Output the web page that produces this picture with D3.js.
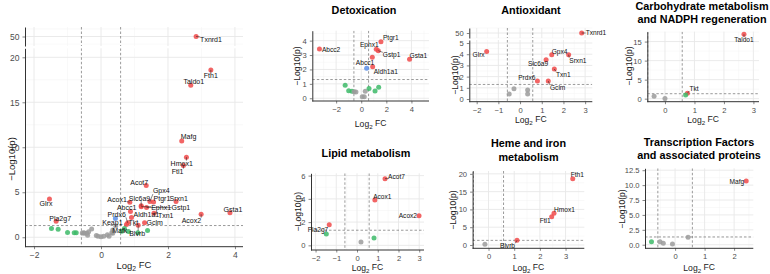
<!DOCTYPE html>
<html>
<head>
<meta charset="utf-8">
<script src="https://cdn.jsdelivr.net/npm/d3@7"></script>
<style>
  body { margin: 0; background: #fff; }
  svg { display: block; font-family: "Liberation Sans", Arial, sans-serif; }
</style>
</head>
<body>
<svg id="fig" width="770" height="274"></svg>
<script>
// Genes per group: [name, log2 FC, -log10(p)]. Empty name = unlabeled point.
const detox = [
  ["Abcc2", -3.33, 3.42], ["Ptgr1", 1.57, 3.93], ["Ephx1", 1.20, 3.40], ["Gstp1", 1.36, 3.30],
  ["Abcc1", 0.88, 2.85], ["Aldh1a1", 0.91, 2.19], ["Keap1", 0.43, 2.08], ["Gsta1", 3.85, 2.71],
  ["", -1.28, 0.90], ["", -1.00, 0.53], ["", -0.74, 0.49], ["", -0.56, 0.46], ["", -0.42, 0.44],
  ["", 0.08, 0.11], ["", 0.24, 0.11], ["", 0.32, 0.49], ["", 0.62, 0.67], ["", 1.10, 0.50], ["", 1.39, 0.76]
];
const antioxidant = [
  ["Txnrd1", 2.84, 50.0], ["Glrx", -1.54, 4.25], ["Gpx4", 1.46, 3.96], ["Srxn1", 2.24, 3.96],
  ["Slc6a9", 1.20, 3.50], ["Txn1", 1.58, 2.68], ["Gclm", 1.30, 1.60], ["Prdx6", 0.80, 1.60],
  ["", -0.50, 0.44], ["", -0.28, 0.91], ["", 0.35, 0.80], ["", 0.35, 0.44]
];
const carbohydrate = [
  ["Taldo1", 2.68, 16.9], ["Tkt", 0.76, 1.42], ["", 0.70, 0.97], ["", -0.37, 0.60], ["", 0.00, 0.05]
];
const lipid = [
  ["Acot7", 1.35, 5.74], ["Acox1", 0.86, 3.90], ["Pla2g7", -1.34, 1.78], ["Acox2", 2.99, 2.55],
  ["", -1.48, 0.97], ["", 0.82, 0.63], ["", 0.19, 0.28]
];
const heme = [
  ["Fth1", 3.28, 18.6], ["Hmox1", 2.55, 8.9], ["Ftl1", 2.46, 7.97], ["Blvrb", 1.11, 1.33], ["", -0.14, 0.20]
];
const transcription = [
  ["Mafg", 2.41, 10.7], ["", -0.80, 0.50], ["", -0.51, 0.50], ["", -0.40, 0.23], ["", -0.09, 0.11], ["Mafk", 0.44, 1.25]
];

// thresholds (1.5 fold, p = 0.05)
const fcCut = Math.log2(1.5);
const pCut = -Math.log10(0.05);

// label placement per panel: [dx, dy, anchor] relative to the point
const nudgeMain = {
  Txnrd1: [4, 3, "start"], Fth1: [0, 6, "middle"], Taldo1: [3, -3.5, "middle"], Mafg: [-1, -4, "start"],
  Hmox1: [-4.7, 6, "middle"], Ftl1: [0, 5.7, "end"], Acot7: [2, -3.3, "end"], Gpx4: [3, -11, "start"],
  Acox1: [-3, -3, "end"], Slc6a9: [-1.7, -7, "middle"], Ptgr1: [0, -3, "start"], Srxn1: [2.7, -3, "middle"],
  Abcc1: [-3.8, -4.4, "middle"], Ephx1: [10, 0.6, "start"], Gstp1: [25, 0, "start"], Prdx6: [-2, -8, "end"],
  Aldh1a1: [2, -2.6, "start"], Txn1: [4, 2, "start"], Keap1: [-3, 4, "middle"], Tkt: [2, -1.8, "start"],
  Gclm: [2, 0, "start"], Acox2: [0, 6, "end"], Gsta1: [3, -3.6, "middle"], Glrx: [-3.4, 4.2, "middle"],
  Pla2g7: [4, -3, "middle"], Blvrb: [-1, 8, "middle"], Mafk: [4, 5, "middle"]
};
const nudgeDetox = {
  Abcc2: [2.5, 1, "start"], Ptgr1: [2, -4, "start"], Ephx1: [-7, -4.3, "middle"], Gstp1: [4.5, 4.3, "start"],
  Abcc1: [-7.3, 5, "middle"], Aldh1a1: [1, 4.5, "start"], Gsta1: [0, -3.5, "start"]
};
const nudgeAntiox = {
  Txnrd1: [4, 0, "start"], Glrx: [-2, 3.7, "end"], Gpx4: [0, -3.3, "start"], Srxn1: [0.6, 5.7, "start"],
  Slc6a9: [-8, 4, "middle"], Txn1: [1.7, 5.3, "start"], Gclm: [1.7, 6.7, "start"], Prdx6: [-2, -3.7, "end"]
};
const nudgeCarb = { Taldo1: [0, 5.7, "middle"], Tkt: [2, -4.6, "start"] };
const nudgeLipid = { Acot7: [3, -2, "start"], Acox1: [-1.7, -3.7, "start"], Pla2g7: [-1, 5, "end"], Acox2: [-2, 0.3, "end"] };
const nudgeHeme = { Fth1: [-2, -4.5, "start"], Hmox1: [0, -4, "start"], Ftl1: [-1, 4.5, "end"], Blvrb: [-2, 5.7, "end"] };
const nudgeTF = { Mafg: [-2, 0.7, "end"] };

const allGenes = [].concat(detox, antioxidant, carbohydrate, lipid, heme, transcription);

const colors = { up: "#f04a4a", blue: "#5b8ee6", green: "#3dba68", grey: "#9b9b9b" };
function pointColor(fc, p) {
  const sig = p > pCut, big = Math.abs(fc) > fcCut;
  if (sig && big) return colors.up;
  if (sig) return colors.blue;
  if (big) return colors.green;
  return colors.grey;
}

const panels = [
  { id: "main", pts: allGenes, nudge: nudgeMain, labelAll: true,
    xDom: [-2.27, 4.24], xRange: [25, 243], xTicks: [-2, 0, 2, 4],
    yDom: [-1.05, 21], yRange: [246.7, 48.3], yTicks: [0, 5, 10, 15, 20],
    yTop: { dom: [47.5, 52.5], range: [46, 27], ticks: [50] },
    tick: 8.5, lab: 7, axT: 9.5, title: [], xTitleY: 265.7, yTitleX: 12, yTitleY: 159 },
  { id: "detox", pts: detox, nudge: nudgeDetox,
    xDom: [-3.9, 5.4], xRange: [312.3, 429], xTicks: [-2, 0, 2, 4],
    yDom: [-0.19, 4.69], yRange: [101, 30.7], yTicks: [0, 1, 2, 3, 4],
    tick: 7.6, lab: 6.6, axT: 8.6, title: ["Detoxication"], titleX: 364, titleY: [14],
    xTitleY: 124, yTitleX: 297, yTitleY: 66 },
  { id: "antiox", pts: antioxidant, nudge: nudgeAntiox,
    xDom: [-2.34, 3.33], xRange: [469.3, 592.3], xTicks: [-2, -1, 0, 1, 2, 3],
    yDom: [-0.24, 5.27], yRange: [101.7, 40], yTicks: [0, 1, 2, 3, 4, 5],
    yTop: { dom: [48, 52], range: [38, 28], ticks: [50] },
    tick: 7.6, lab: 6.6, axT: 8.6, title: ["Antioxidant"], titleX: 531, titleY: [14],
    xTitleY: 120, yTitleX: 455, yTitleY: 75 },
  { id: "carb", pts: carbohydrate, nudge: nudgeCarb,
    xDom: [-0.6, 3.19], xRange: [647.3, 759], xTicks: [0, 1, 2, 3],
    yDom: [-0.8, 17.6], yRange: [101.7, 31.7], yTicks: [0, 5, 10, 15],
    tick: 7.6, lab: 6.6, axT: 8.6, title: ["Carbohydrate metabolism", "and NADPH regeneration"],
    titleX: 702, titleY: [10, 23], xTitleY: 120, yTitleX: 629, yTitleY: 66 },
  { id: "lipid", pts: lipid, nudge: nudgeLipid,
    xDom: [-2.22, 3.23], xRange: [311, 424], xTicks: [-2, -1, 0, 1, 2, 3],
    yDom: [-0.4, 6.2], yRange: [250, 173.3], yTicks: [0, 2, 4, 6],
    tick: 7.6, lab: 6.6, axT: 8.6, title: ["Lipid metabolism"], titleX: 366, titleY: [157],
    xTitleY: 267.7, yTitleX: 297.7, yTitleY: 211.7 },
  { id: "heme", pts: heme, nudge: nudgeHeme,
    xDom: [-0.62, 3.73], xRange: [472.6, 584.3], xTicks: [0, 1, 2, 3],
    yDom: [-0.93, 20.8], yRange: [248.3, 171], yTicks: [0, 5, 10, 15, 20],
    tick: 7.6, lab: 6.6, axT: 8.6, title: ["Heme and iron", "metabolism"], titleX: 528.5, titleY: [147, 160.5],
    xTitleY: 267.7, yTitleX: 453.3, yTitleY: 210 },
  { id: "tf", pts: transcription, nudge: nudgeTF, yFmt: ".1f",
    xDom: [-1.02, 2.65], xRange: [645, 753.3], xTicks: [0, 1, 2],
    yDom: [-0.6, 12.82], yRange: [248.3, 168.3], yTicks: [0, 2.5, 5, 7.5, 10, 12.5],
    tick: 7.6, lab: 6.6, axT: 8.6, title: ["Transcription Factors", "and associated proteins"],
    titleX: 699, titleY: [145.5, 159], xTitleY: 267.7, yTitleX: 622.3, yTitleY: 209 }
];

const svg = d3.select("#fig");

function minorTicks(ticks, dom) {
  const step = ticks.length > 1 ? ticks[1] - ticks[0] : 4;
  const out = [];
  for (let v = ticks[0] - step * 20 + step / 2; v <= dom[1]; v += step) {
    const r = Math.round(v * 1000) / 1000;
    if (r >= dom[0] && r <= dom[1]) out.push(r);
  }
  return out;
}

function drawPanel(p) {
  const g = svg.append("g").attr("class", "panel " + p.id);
  const x = d3.scaleLinear().domain(p.xDom).range(p.xRange);
  const segs = [{ dom: p.yDom, range: p.yRange, ticks: p.yTicks }];
  if (p.yTop) segs.push(p.yTop);
  const xMin = minorTicks(p.xTicks, p.xDom);

  segs.forEach((s, si) => {
    s.y = d3.scaleLinear().domain(s.dom).range(s.range);
    const top = s.range[1], bot = s.range[0];
    const cid = `clip-${p.id}-${si}`;
    svg.append("clipPath").attr("id", cid).append("rect")
      .attr("x", p.xRange[0]).attr("y", top)
      .attr("width", p.xRange[1] - p.xRange[0]).attr("height", bot - top);
    s.clip = `url(#${cid})`;

    const grid = g.append("g");
    // minor grid
    const yMin = s.ticks.length > 1 ? minorTicks(s.ticks, s.dom)
      : [s.ticks[0] - 2, s.ticks[0] + 2].filter(v => v >= s.dom[0] && v <= s.dom[1]);
    grid.selectAll(".mx").data(xMin).join("line")
      .attr("x1", d => x(d)).attr("x2", d => x(d)).attr("y1", top).attr("y2", bot)
      .attr("stroke", "#f3f3f3").attr("stroke-width", 0.5);
    grid.selectAll(".my").data(yMin).join("line")
      .attr("x1", p.xRange[0]).attr("x2", p.xRange[1]).attr("y1", d => s.y(d)).attr("y2", d => s.y(d))
      .attr("stroke", "#f3f3f3").attr("stroke-width", 0.5);
    // major grid
    grid.selectAll(".Mx").data(p.xTicks).join("line")
      .attr("x1", d => x(d)).attr("x2", d => x(d)).attr("y1", top).attr("y2", bot)
      .attr("stroke", "#e8e8e8").attr("stroke-width", 0.9);
    grid.selectAll(".My").data(s.ticks).join("line")
      .attr("x1", p.xRange[0]).attr("x2", p.xRange[1]).attr("y1", d => s.y(d)).attr("y2", d => s.y(d))
      .attr("stroke", "#e8e8e8").attr("stroke-width", 0.9);

    // threshold lines
    const thr = g.append("g").attr("clip-path", s.clip)
      .attr("stroke", "#555").attr("stroke-width", 0.6).attr("stroke-dasharray", "2.5,2").attr("fill", "none");
    [-fcCut, fcCut].forEach(v => {
      thr.append("line").attr("x1", x(v)).attr("x2", x(v)).attr("y1", top).attr("y2", bot);
    });
    if (si === 0) {
      thr.append("line").attr("x1", p.xRange[0]).attr("x2", p.xRange[1])
        .attr("y1", s.y(pCut)).attr("y2", s.y(pCut));
    }

    // y axis
    const fmt = p.yFmt ? d3.format(p.yFmt) : d3.format("");
    const ax = g.append("g").attr("transform", `translate(${p.xRange[0]},0)`)
      .call(d3.axisLeft(s.y).tickValues(s.ticks).tickFormat(fmt).tickSize(2.5).tickSizeOuter(0));
    styleAxis(ax, p.tick);
  });

  // x axis
  const xa = g.append("g").attr("transform", `translate(0,${p.yRange[0]})`)
    .call(d3.axisBottom(x).tickValues(p.xTicks).tickFormat(d3.format("")).tickSize(2.5).tickSizeOuter(0));
  styleAxis(xa, p.tick);
  xa.select(".domain").attr("d", `M${p.xRange[0]},0H${p.xRange[1]}`);

  // points
  const segOf = d => (p.yTop && d[2] > p.yDom[1]) ? segs[1] : segs[0];
  const inX = d => d[1] >= p.xDom[0] && d[1] <= p.xDom[1];
  const pts = p.pts.filter(inX);
  g.append("g").selectAll("circle").data(pts).join("circle")
    .attr("cx", d => x(d[1])).attr("cy", d => segOf(d).y(d[2])).attr("r", 2.5)
    .attr("fill", d => pointColor(d[1], d[2])).attr("fill-opacity", 0.85);

  // labels (with repel-style segments)
  const labelled = pts.filter(d => d[0] && (p.labelAll || pointColor(d[1], d[2]) === colors.up));
  const segLayer = g.append("g");
  const labLayer = g.append("g");
  labelled.forEach(d => {
    const px = x(d[1]), py = segOf(d).y(d[2]);
    const n = p.nudge[d[0]] || [3, 0, "start"];
    const t = labLayer.append("text")
      .attr("x", px + n[0]).attr("y", py + n[1]).attr("dy", "0.35em")
      .attr("text-anchor", n[2]).attr("font-size", p.lab).attr("fill", "#111")
      .text(d[0]);
    const b = t.node().getBBox();
    const cx = Math.max(b.x, Math.min(px, b.x + b.width));
    const cy = Math.max(b.y + 1, Math.min(py, b.y + b.height - 1));
    if (Math.hypot(cx - px, cy - py) > 2.5) {
      segLayer.append("line").attr("x1", px).attr("y1", py).attr("x2", cx).attr("y2", cy)
        .attr("stroke", "#111").attr("stroke-width", 0.5);
    }
  });

  // axis titles
  const xt = g.append("text").attr("x", (p.xRange[0] + p.xRange[1]) / 2).attr("y", p.xTitleY)
    .attr("dy", "0.35em").attr("text-anchor", "middle").attr("font-size", p.axT).attr("fill", "#222");
  xt.append("tspan").text("Log");
  xt.append("tspan").attr("font-size", p.axT * 0.72).attr("dy", "0.3em").text("2");
  xt.append("tspan").attr("dy", "-0.3em").text(" FC");

  g.append("text").attr("transform", `translate(${p.yTitleX},${p.yTitleY}) rotate(-90)`)
    .attr("dy", "0.35em").attr("text-anchor", "middle").attr("font-size", p.axT).attr("fill", "#222")
    .text("\u2212Log10(p)");

  // title
  p.title.forEach((line, i) => {
    g.append("text").attr("x", p.titleX).attr("y", p.titleY[i]).attr("text-anchor", "middle")
      .attr("font-size", 10.8).attr("font-weight", "bold").attr("fill", "#000").text(line);
  });
}

function styleAxis(ax, size) {
  ax.select(".domain").attr("stroke", "#333").attr("stroke-width", 1);
  ax.selectAll(".tick line").attr("stroke", "#333").attr("stroke-width", 0.6);
  ax.selectAll(".tick text").attr("font-size", size).attr("fill", "#4d4d4d")
    .attr("font-family", "Liberation Sans, Arial, sans-serif");
}

panels.forEach(drawPanel);
</script>
</body>
</html>
